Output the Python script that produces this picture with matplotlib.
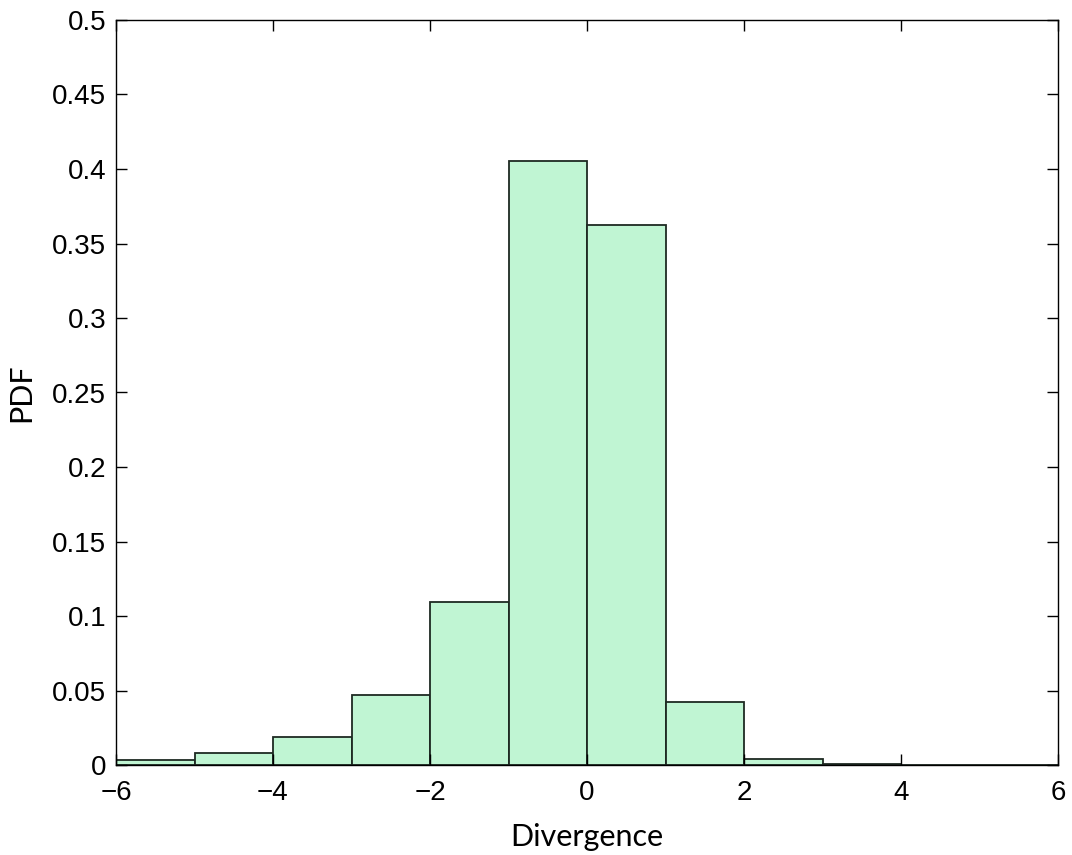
import matplotlib.pyplot as plt
import numpy as np

# histogram of divergence (bin edges at integers)
bin_edges = [-6, -5, -4, -3, -2, -1, 0, 1, 2, 3, 4, 5, 6]
pdf_values = [0.0034, 0.0083, 0.0188, 0.047, 0.1094, 0.4056, 0.3626, 0.042, 0.004, 0.001, 0.0, 0.0]
x_ticks = [-6, -4, -2, 0, 2, 4, 6]
y_ticks = [0, 0.05, 0.1, 0.15, 0.2, 0.25, 0.3, 0.35, 0.4, 0.45, 0.5]
y_tick_labels = ["0", "0.05", "0.1", "0.15", "0.2", "0.25", "0.3", "0.35", "0.4", "0.45", "0.5"]

plt.rcParams["font.family"] = ["Liberation Sans", "DejaVu Sans"]

fig = plt.figure(figsize=(10.72, 8.55), dpi=100)
ax = fig.add_axes([116 / 1072, 1 - 765 / 855, (1058 - 116) / 1072, (765 - 20) / 855])

edges = np.array(bin_edges, dtype=float)
ax.bar(edges[:-1], pdf_values, width=np.diff(edges), align="edge",
       color="#c0f5d3", edgecolor="#1e2a22", linewidth=1.3)

ax.set_xlim(-6, 6)
ax.set_ylim(0, 0.5)
ax.set_xticks(x_ticks)
ax.set_xticklabels(["\u22126", "\u22124", "\u22122", "0", "2", "4", "6"])
ax.set_yticks(y_ticks)
ax.set_yticklabels(y_tick_labels)
ax.tick_params(direction="in", length=8, width=1.0, labelsize=20,
               top=True, right=True, colors="black")
ax.tick_params(axis="x", pad=11)
ax.tick_params(axis="y", pad=7)
for s in ax.spines.values():
    s.set_linewidth(1.0)

label_font = ["Lato", "DejaVu Sans"]
ax.set_xlabel("Divergence", fontsize=22, family=label_font, labelpad=12)
ax.set_ylabel("PDF", fontsize=22, family=label_font, labelpad=12)

fig.savefig("out.png", dpi=100)
